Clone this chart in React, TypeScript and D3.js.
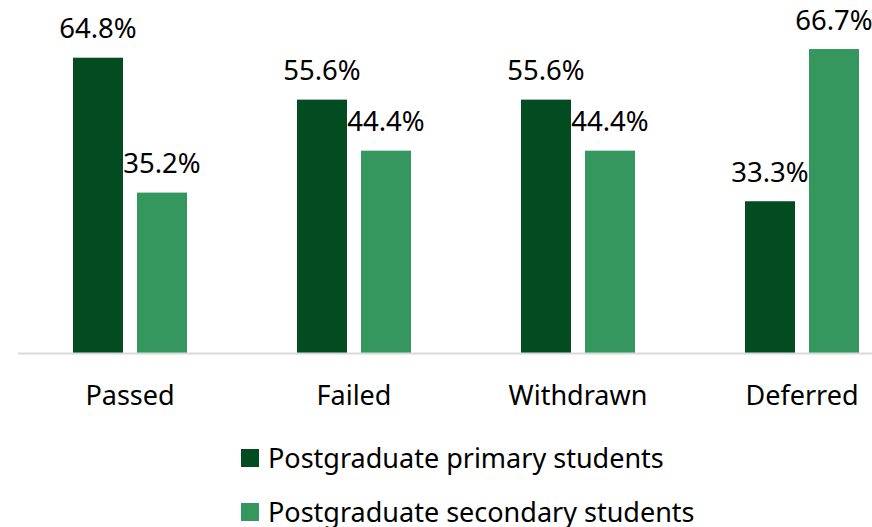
import React from "react";
import * as d3 from "d3";

const categories = ["Passed", "Failed", "Withdrawn", "Deferred"];
const seriesNames = ["Postgraduate primary students", "Postgraduate secondary students"];
const primaryValues = [64.8, 55.6, 55.6, 33.3];
const secondaryValues = [35.2, 44.4, 44.4, 66.7];
const colors = ["#034b21", "#35965e"];

const W = 872;
const H = 527;
const FONT = "Noto Sans, sans-serif";

export default function App() {
  const baseline = 353;
  const x = d3.scaleBand<string>().domain(categories).range([18, 914]).padding(0);
  const inner = d3
    .scaleBand<number>()
    .domain([0, 1])
    .range([-57, 57])
    .paddingInner(14 / 64)
    .paddingOuter(0);
  const y = d3.scaleLinear().domain([0, 100]).range([baseline, baseline - 455.7]);
  const series = [primaryValues, secondaryValues];

  return (
    <svg width={W} height={H} style={{ position: "absolute", left: 0, top: 0 }}>
      <rect width={W} height={H} fill="#fff" />
      {categories.map((c, i) => {
        const cx = (x(c) as number) + x.bandwidth() / 2;
        return (
          <g key={c}>
            {series.map((vals, s) => {
              const bx = cx + (inner(s) as number);
              const v = vals[i];
              return (
                <g key={s}>
                  <rect
                    x={bx}
                    y={y(v)}
                    width={inner.bandwidth()}
                    height={baseline - y(v)}
                    fill={colors[s]}
                  />
                  <text
                    x={bx + inner.bandwidth() / 2}
                    y={y(v) - 19.5}
                    textAnchor="middle"
                    fontFamily={FONT}
                    fontSize={27.5}
                    fill="#000"
                  >
                    {v.toFixed(1)}%
                  </text>
                </g>
              );
            })}
            <text
              x={cx}
              y={405}
              textAnchor="middle"
              fontFamily={FONT}
              fontSize={27}
              fill="#000"
            >
              {c}
            </text>
          </g>
        );
      })}
      <line x1={18} x2={W} y1={baseline + 0.5} y2={baseline + 0.5} stroke="#d9d9d9" strokeWidth={2} />
      {seriesNames.map((n, s) => (
        <g key={n} transform={`translate(241, ${449 + s * 54})`}>
          <rect width={18} height={18} fill={colors[s]} />
          <text x={27} y={18.5} fontFamily={FONT} fontSize={27} fill="#000">
            {n}
          </text>
        </g>
      ))}
    </svg>
  );
}
